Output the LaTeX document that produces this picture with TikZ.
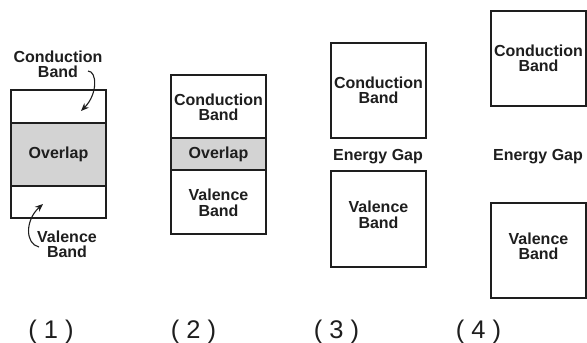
\documentclass[tikz,border=0pt]{standalone}
\usepackage{fontspec}
\setmainfont{Liberation Sans}
\usetikzlibrary{arrows.meta}
\definecolor{ink}{RGB}{30,30,30}
\definecolor{ovl}{RGB}{211,211,211}
\tikzset{
  bandbox/.style={draw=ink, line width=1.1pt, minimum width=95pt, inner sep=0pt, outer sep=0pt},
  overlapbox/.style={draw=ink, line width=2.3pt, fill=ovl, minimum width=95pt, inner sep=0pt, outer sep=0pt,
     font=\fontsize{16}{15.5}\selectfont\bfseries, text=ink},
  lbl/.style={font=\fontsize{16}{15.5}\selectfont\bfseries, text=ink, align=center, inner sep=0pt},
  numlbl/.style={font=\fontsize{25.5}{25.5}\selectfont, text=ink, anchor=base, inner sep=0pt},
  curvearrow/.style={draw=ink, line width=1.1pt, -{Stealth[length=8pt,width=6.5pt]}}
}
\begin{document}
\begin{tikzpicture}[x=1pt,y=-1pt]
\useasboundingbox (0,0) rectangle (587,343);
% ---- (1)
\node[bandbox, minimum height=128pt] (b1) at (58.5,154) {};
\node[overlapbox, minimum height=63pt] (o1) at (58.5,154.5) {Overlap};
\node[lbl] (cb1) at (58,64.5) {Conduction\\Band};
\node[lbl] (vb1) at (67,244.5) {Valence\\Band};
\coordinate (c1s) at (88,71);
\coordinate (c1t) at (81,111);
\coordinate (v1s) at (39,247);
\coordinate (v1t) at (43,204);
\draw[curvearrow] (c1s) .. controls (97,71) and (98,94) .. (c1t);
\draw[curvearrow] (v1s) .. controls (25,244) and (25,220) .. (v1t);
% ---- (2)
\node[bandbox, minimum height=159pt] (b2) at (218.5,154.5) {};
\node[overlapbox, minimum height=32pt] (o2) at (218.5,154) {Overlap};
\node[lbl] (cb2) at (218.5,107.5) {Conduction\\Band};
\node[lbl] (vb2) at (218.5,203) {Valence\\Band};
% ---- (3)
\node[bandbox, minimum height=95pt, lbl] (cb3) at (378.5,90.5) {Conduction\\Band};
\node[lbl] (eg3) at (378,157) {Energy Gap};
\node[bandbox, minimum height=96pt] (vb3box) at (378.5,219) {};
\node[lbl] (vb3) at (378.5,215) {Valence\\Band};
% ---- (4)
\node[bandbox, minimum height=95pt, lbl] (cb4) at (538.5,58.5) {Conduction\\Band};
\node[lbl] (eg4) at (538,157) {Energy Gap};
\node[bandbox, minimum height=95pt] (vb4box) at (538.5,250.5) {};
\node[lbl] (vb4) at (538.5,246.5) {Valence\\Band};
% ---- numbers
\node[numlbl] (n1) at (51,338) {( 1 )};
\node[numlbl] (n2) at (193.5,338) {( 2 )};
\node[numlbl] (n3) at (336.5,338) {( 3 )};
\node[numlbl] (n4) at (478.5,338) {( 4 )};
\end{tikzpicture}
\end{document}
